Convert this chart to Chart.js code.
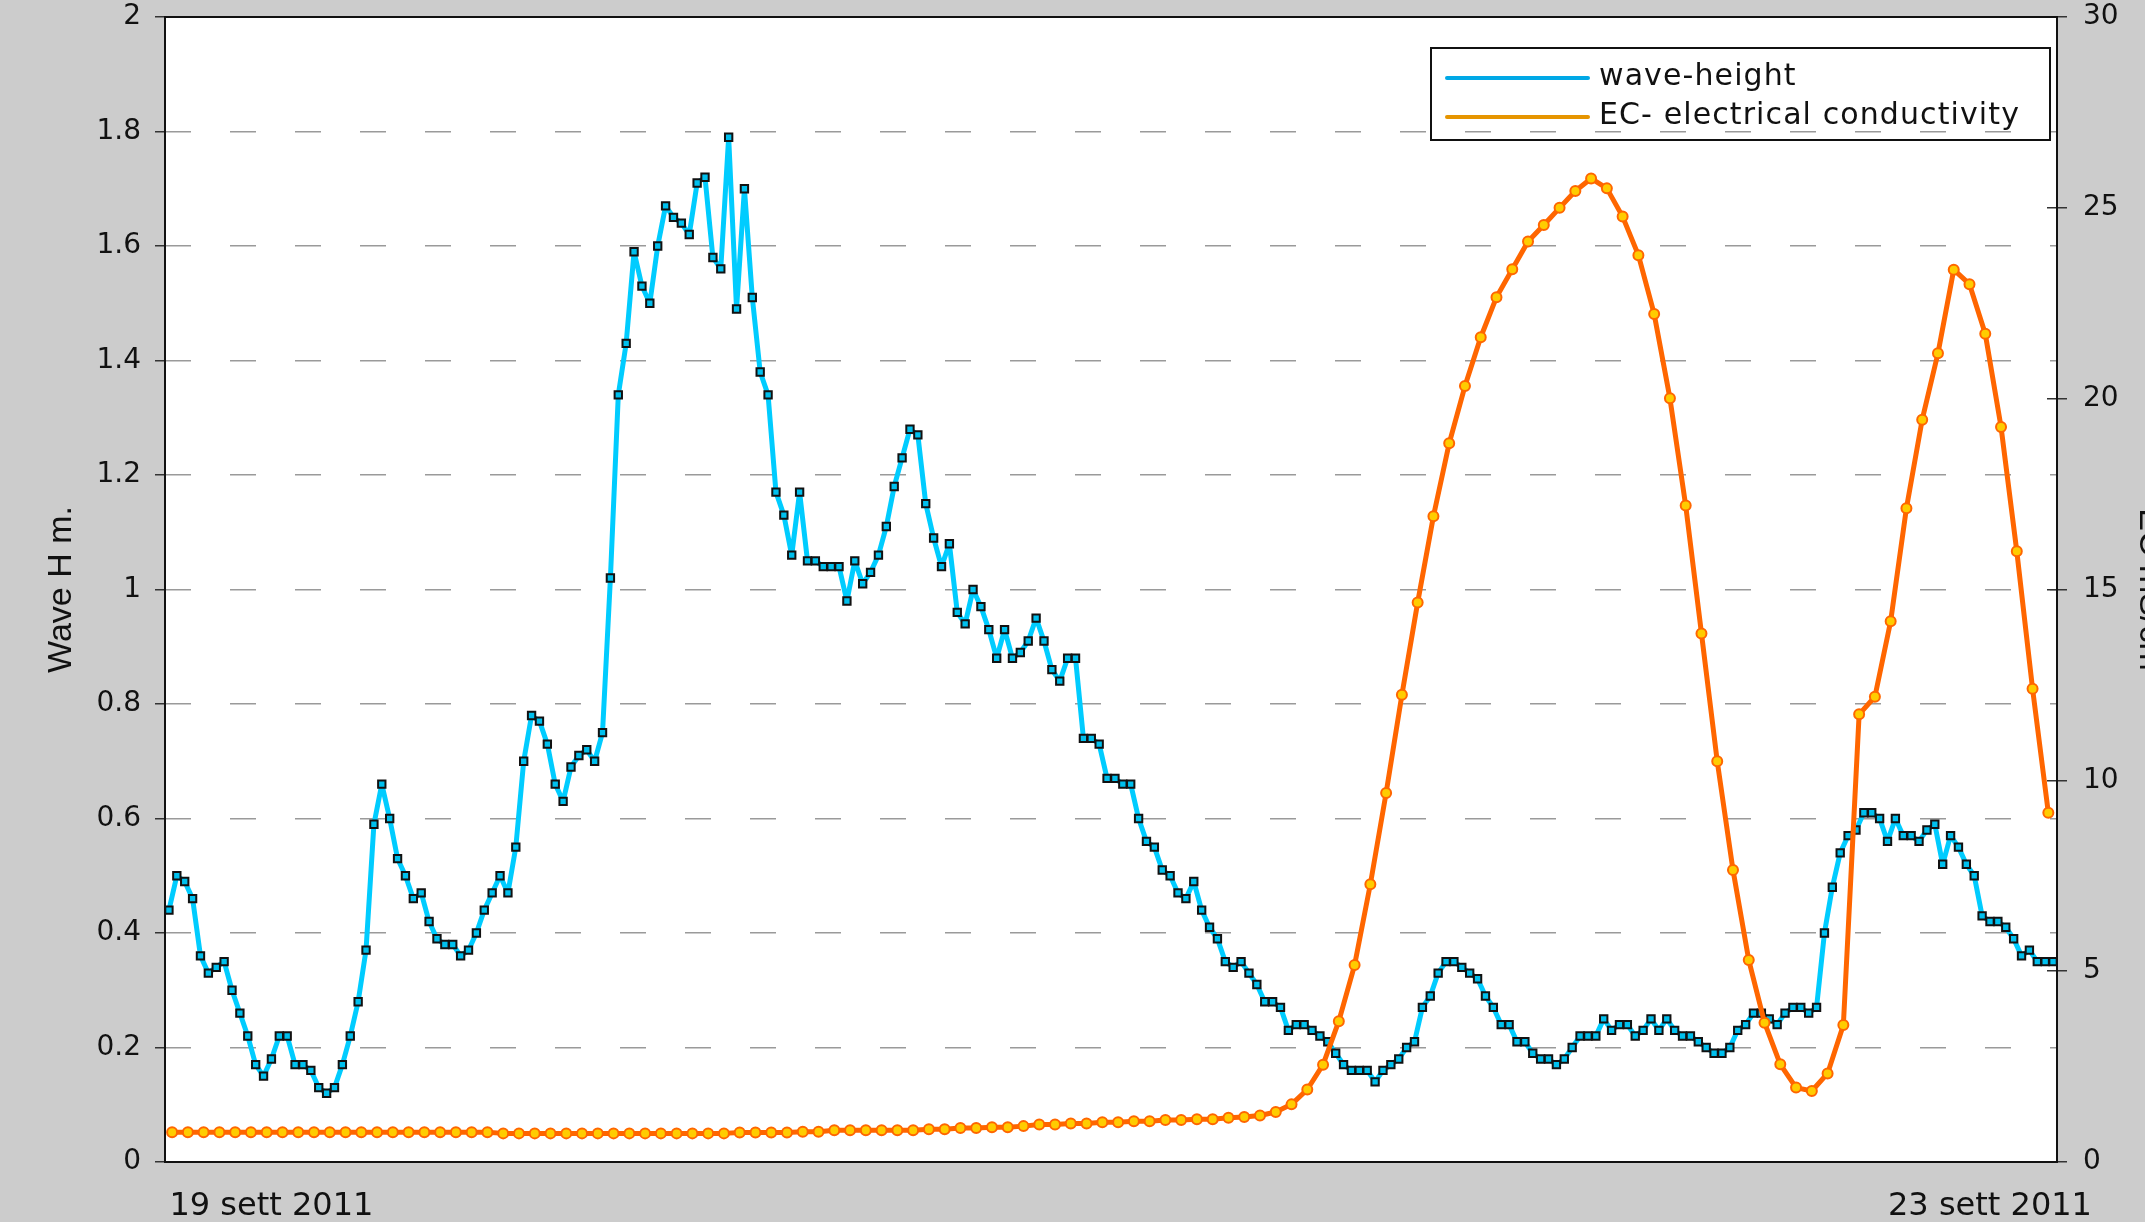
<!DOCTYPE html>
<html>
<head>
<meta charset="utf-8">
<title>Wave height / EC</title>
<script src="https://cdn.jsdelivr.net/npm/chart.js@4.4.1/dist/chart.umd.min.js"></script>
<style>
  html, body { margin: 0; padding: 0; background: #cccccc; overflow: hidden; }
  #wrap { position: relative; width: 2145px; height: 1222px; overflow: hidden; }
  #chart { position: absolute; left: 0; top: 0; }
  #legend { position: absolute; left: 1430px; top: 47px; width: 621px; height: 94px;
            box-sizing: border-box; border: 2px solid #111; }
  .legend-row { position: absolute; left: 13px; height: 36px; display: flex; align-items: center;
                font: 30px 'DejaVu Sans', sans-serif; letter-spacing: 1.1px; color: #111; white-space: nowrap; }
  .legend-row span.txt { position: relative; top: -4px; }
  .legend-line { display: inline-block; width: 145px; height: 4px; border-radius: 2px; margin-right: 9px; }
</style>
</head>
<body>
<div id="wrap">
  <canvas id="chart" width="2190" height="1222"></canvas>
  <div id="legend"></div>
</div>
<script>
// --- Data ---
// wave height (m), one value per sample
const waveHeight = [
  0.44, 0.50, 0.49, 0.46, 0.36, 0.33, 0.34, 0.35, 0.30, 0.26,
  0.22, 0.17, 0.15, 0.18, 0.22, 0.22, 0.17, 0.17, 0.16, 0.13,
  0.12, 0.13, 0.17, 0.22, 0.28, 0.37, 0.59, 0.66, 0.60, 0.53,
  0.50, 0.46, 0.47, 0.42, 0.39, 0.38, 0.38, 0.36, 0.37, 0.40,
  0.44, 0.47, 0.50, 0.47, 0.55, 0.70, 0.78, 0.77, 0.73, 0.66,
  0.63, 0.69, 0.71, 0.72, 0.70, 0.75, 1.02, 1.34, 1.43, 1.59,
  1.53, 1.50, 1.60, 1.67, 1.65, 1.64, 1.62, 1.71, 1.72, 1.58,
  1.56, 1.79, 1.49, 1.70, 1.51, 1.38, 1.34, 1.17, 1.13, 1.06,
  1.17, 1.05, 1.05, 1.04, 1.04, 1.04, 0.98, 1.05, 1.01, 1.03,
  1.06, 1.11, 1.18, 1.23, 1.28, 1.27, 1.15, 1.09, 1.04, 1.08,
  0.96, 0.94, 1.00, 0.97, 0.93, 0.88, 0.93, 0.88, 0.89, 0.91,
  0.95, 0.91, 0.86, 0.84, 0.88, 0.88, 0.74, 0.74, 0.73, 0.67,
  0.67, 0.66, 0.66, 0.60, 0.56, 0.55, 0.51, 0.50, 0.47, 0.46,
  0.49, 0.44, 0.41, 0.39, 0.35, 0.34, 0.35, 0.33, 0.31, 0.28,
  0.28, 0.27, 0.23, 0.24, 0.24, 0.23, 0.22, 0.21, 0.19, 0.17,
  0.16, 0.16, 0.16, 0.14, 0.16, 0.17, 0.18, 0.20, 0.21, 0.27,
  0.29, 0.33, 0.35, 0.35, 0.34, 0.33, 0.32, 0.29, 0.27, 0.24,
  0.24, 0.21, 0.21, 0.19, 0.18, 0.18, 0.17, 0.18, 0.20, 0.22,
  0.22, 0.22, 0.25, 0.23, 0.24, 0.24, 0.22, 0.23, 0.25, 0.23,
  0.25, 0.23, 0.22, 0.22, 0.21, 0.20, 0.19, 0.19, 0.20, 0.23,
  0.24, 0.26, 0.26, 0.25, 0.24, 0.26, 0.27, 0.27, 0.26, 0.27,
  0.40, 0.48, 0.54, 0.57, 0.58, 0.61, 0.61, 0.60, 0.56, 0.60,
  0.57, 0.57, 0.56, 0.58, 0.59, 0.52, 0.57, 0.55, 0.52, 0.50,
  0.43, 0.42, 0.42, 0.41, 0.39, 0.36, 0.37, 0.35, 0.35, 0.35
];

// electrical conductivity, sampled half as often
const conductivity = [
  0.78, 0.78, 0.78, 0.78, 0.78, 0.78, 0.78, 0.78, 0.78, 0.78,
  0.78, 0.78, 0.78, 0.78, 0.78, 0.78, 0.78, 0.78, 0.78, 0.78,
  0.78, 0.75, 0.75, 0.75, 0.75, 0.75, 0.75, 0.75, 0.75, 0.75,
  0.75, 0.75, 0.75, 0.75, 0.75, 0.75, 0.77, 0.77, 0.77, 0.77,
  0.79, 0.79, 0.83, 0.83, 0.83, 0.83, 0.83, 0.83, 0.86, 0.86,
  0.89, 0.89, 0.91, 0.91, 0.94, 0.98, 0.98, 1.01, 1.01, 1.04,
  1.04, 1.07, 1.07, 1.10, 1.10, 1.12, 1.12, 1.16, 1.18, 1.22,
  1.31, 1.51, 1.90, 2.55, 3.69, 5.16, 7.28, 9.67, 12.24, 14.66,
  16.92, 18.83, 20.33, 21.61, 22.66, 23.39, 24.12, 24.55, 25.00, 25.44,
  25.77, 25.51, 24.77, 23.76, 22.22, 20.01, 17.20, 13.85, 10.50, 7.65,
  5.29, 3.65, 2.56, 1.95, 1.86, 2.32, 3.59, 11.73, 12.19, 14.17,
  17.13, 19.45, 21.19, 23.38, 23.00, 21.70, 19.26, 16.00, 12.40, 9.15
];

const seriesNames = ['wave-height', 'EC- electrical conductivity'];
const legendColors = ['#00a8e6', '#e69500'];

// sample positions on the shared x axis (in wave samples)
const waveStep = 1;
const ecStart = 0.4;
const ecStep = 2;

const xTickValues = [13, 231];
const xTickLabels = ['19 sett 2011', '23 sett 2011'];

const leftTitle = 'Wave H m.';
const rightTitle = 'EC mS/cm';

// --- Build legend (HTML) ---
const legendEl = document.getElementById('legend');
seriesNames.forEach((name, i) => {
    const row = document.createElement('div');
    row.className = 'legend-row';
    row.style.top = (11 + i * 39) + 'px';
    const swatch = document.createElement('span');
    swatch.className = 'legend-line';
    swatch.style.background = legendColors[i];
    const text = document.createElement('span');
    text.className = 'txt';
    text.textContent = name;
    row.appendChild(swatch);
    row.appendChild(text);
    legendEl.appendChild(row);
});

// --- Plot background + frame ---
const plotFrame = {
    id: 'plotFrame',
    beforeDraw(chart) {
        const { ctx, chartArea: a } = chart;
        ctx.save();
        ctx.fillStyle = '#cccccc';
        ctx.fillRect(0, 0, chart.width, chart.height);
        ctx.fillStyle = '#ffffff';
        ctx.fillRect(a.left, a.top, a.right - a.left, a.bottom - a.top);
        ctx.restore();
    },
    afterDraw(chart) {
        const { ctx, chartArea: a } = chart;
        ctx.save();
        ctx.strokeStyle = '#111';
        ctx.lineWidth = 2;
        ctx.strokeRect(a.left, a.top, a.right - a.left, a.bottom - a.top);
        ctx.restore();
    }
};

const tickFont = { family: 'DejaVu Sans', size: 28 };
const titleFont = { family: 'Liberation Sans', size: 34 };

// keep the plot box fixed: no extra room for half tick labels
const noVPad = s => { s.paddingTop = 0; s.paddingBottom = 0; };

new Chart(document.getElementById('chart'), {
    type: 'line',
    data: {
        datasets: [
            {
                label: seriesNames[0],
                yAxisID: 'y',
                order: 2,
                data: waveHeight.map((v, i) => ({ x: i * waveStep, y: v })),
                borderColor: '#00ccff',
                borderWidth: 5,
                borderJoinStyle: 'round',
                pointStyle: 'rect',
                pointRadius: 5.2,
                pointBackgroundColor: '#00c0ee',
                pointBorderColor: '#111',
                pointBorderWidth: 2,
                tension: 0
            },
            {
                label: seriesNames[1],
                yAxisID: 'y2',
                order: 1,
                data: conductivity.map((v, j) => ({ x: ecStart + j * ecStep, y: v })),
                borderColor: '#ff6600',
                borderWidth: 5,
                borderJoinStyle: 'round',
                pointStyle: 'circle',
                pointRadius: 5,
                pointBackgroundColor: '#ffcc00',
                pointBorderColor: '#ff6600',
                pointBorderWidth: 2,
                tension: 0
            }
        ]
    },
    options: {
        responsive: false,
        animation: false,
        devicePixelRatio: 1,
        layout: { padding: { top: 17, left: 0, right: 0, bottom: 0 } },
        plugins: {
            legend: { display: false },
            tooltip: { enabled: false }
        },
        scales: {
            x: {
                type: 'linear',
                min: -0.5,
                max: 239.5,
                grid: { display: false, drawTicks: false },
                border: { display: false },
                afterBuildTicks: s => { s.ticks = xTickValues.map(v => ({ value: v })); },
                afterFit: s => { s.height = 60; s.paddingLeft = 0; s.paddingRight = 0; },
                ticks: {
                    autoSkip: false,
                    maxRotation: 0,
                    padding: 25,
                    color: '#111',
                    font: { family: 'DejaVu Sans', size: 32 },
                    callback: (v, i) => xTickLabels[i]
                }
            },
            y: {
                position: 'left',
                min: 0,
                max: 2,
                afterFit: s => { s.width = 165; noVPad(s); },
                ticks: {
                    stepSize: 0.2,
                    padding: 14,
                    color: '#111',
                    font: tickFont,
                    callback: v => String(Math.round(v * 10) / 10)
                },
                grid: {
                    color: '#9a9a9a',
                    lineWidth: 1.5,
                    drawTicks: true,
                    tickLength: 10,
                    tickColor: '#333',
                    tickWidth: 1.5,
                    tickBorderDash: []
                },
                border: { display: false, dash: [26, 39], dashOffset: 0 },
                title: {
                    display: true,
                    text: leftTitle,
                    color: '#111',
                    font: titleFont,
                    padding: { top: 41.6, bottom: 0 }
                }
            },
            y2: {
                position: 'right',
                min: 0,
                max: 30,
                afterFit: s => { s.width = 133; noVPad(s); },
                ticks: {
                    stepSize: 5,
                    padding: 16,
                    color: '#111',
                    font: tickFont
                },
                grid: {
                    // only a short stub inside the plot next to the right axis
                    drawOnChartArea: true,
                    color: '#333',
                    lineWidth: 1.5,
                    drawTicks: true,
                    tickLength: 10,
                    tickColor: '#333',
                    tickWidth: 1.5,
                    tickBorderDash: []
                },
                border: { display: false, dash: [0, 1882, 10, 200], dashOffset: 0 },
                title: {
                    display: true,
                    text: rightTitle,
                    color: '#111',
                    font: titleFont,
                    padding: { top: 20.6, bottom: 0 }
                }
            }
        }
    },
    plugins: [plotFrame]
});
</script>
</body>
</html>
